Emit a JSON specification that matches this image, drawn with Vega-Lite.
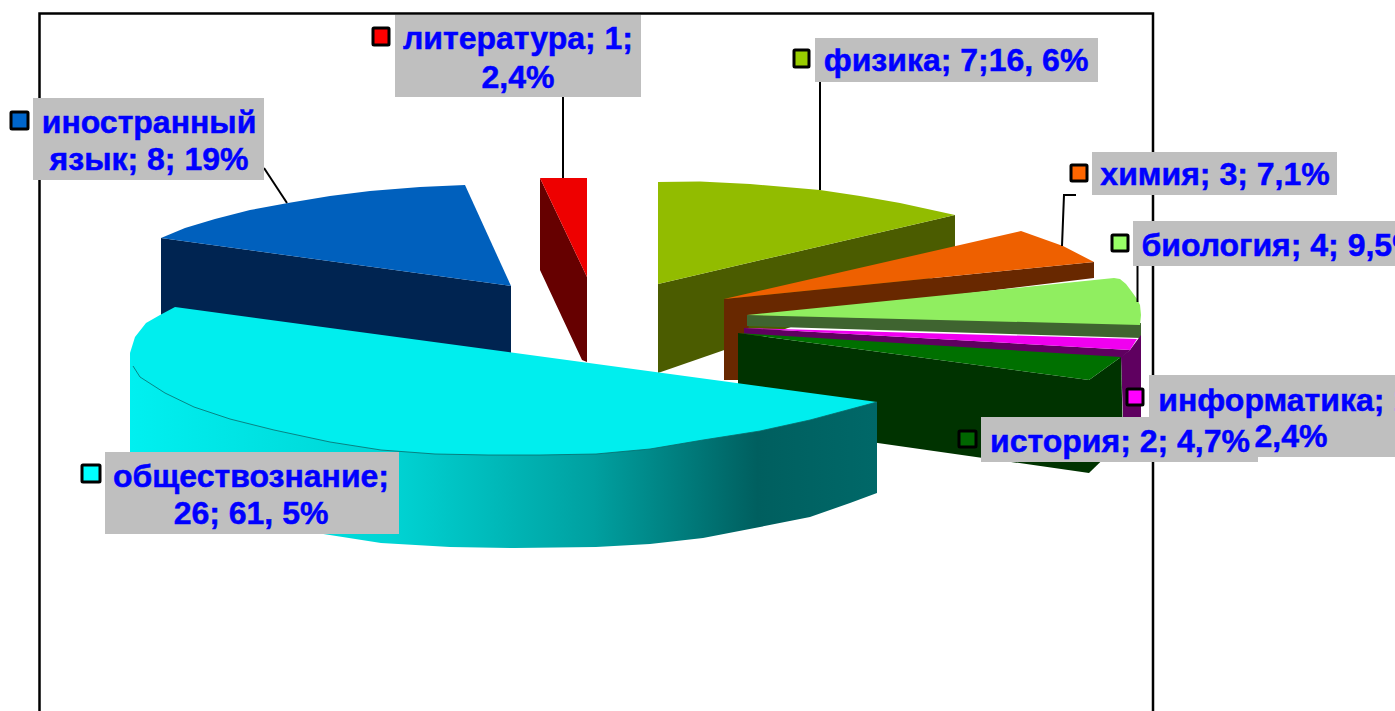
{
"$schema":"https://vega.github.io/schema/vega-lite/v6.json",
"width":1395,"height":711,"padding":0,"autosize":{"type":"none"},
"background":"white",
"view":{"stroke":null},
"datasets":{
"poly":[
{"part":"blueSide","i":0,"x":161,"y":238},{"part":"blueSide","i":1,"x":511,"y":286},{"part":"blueSide","i":2,"x":511,"y":360},{"part":"blueSide","i":3,"x":161,"y":320},
{"part":"blueTop","i":0,"x":161,"y":238},{"part":"blueTop","i":1,"x":185,"y":228},{"part":"blueTop","i":2,"x":215,"y":219},{"part":"blueTop","i":3,"x":250,"y":210},{"part":"blueTop","i":4,"x":288,"y":203},{"part":"blueTop","i":5,"x":330,"y":196},{"part":"blueTop","i":6,"x":370,"y":191},{"part":"blueTop","i":7,"x":420,"y":187},{"part":"blueTop","i":8,"x":465,"y":185},{"part":"blueTop","i":9,"x":511,"y":286},
{"part":"redSide","i":0,"x":540,"y":178},{"part":"redSide","i":1,"x":587,"y":277},{"part":"redSide","i":2,"x":587,"y":362},{"part":"redSide","i":3,"x":582,"y":360},{"part":"redSide","i":4,"x":540,"y":270},
{"part":"redTop","i":0,"x":540,"y":178},{"part":"redTop","i":1,"x":587,"y":178},{"part":"redTop","i":2,"x":587,"y":277},
{"part":"physSide","i":0,"x":658,"y":284},{"part":"physSide","i":1,"x":955,"y":215},{"part":"physSide","i":2,"x":955,"y":270},{"part":"physSide","i":3,"x":658,"y":373},
{"part":"physTop","i":0,"x":658,"y":182},{"part":"physTop","i":1,"x":700,"y":181.5},{"part":"physTop","i":2,"x":750,"y":184},{"part":"physTop","i":3,"x":820,"y":190},{"part":"physTop","i":4,"x":860,"y":196},{"part":"physTop","i":5,"x":900,"y":203},{"part":"physTop","i":6,"x":955,"y":215},{"part":"physTop","i":7,"x":658,"y":284},
{"part":"orSide","i":0,"x":724,"y":299},{"part":"orSide","i":1,"x":1094,"y":262},{"part":"orSide","i":2,"x":1094,"y":278},{"part":"orSide","i":3,"x":750,"y":320},{"part":"orSide","i":4,"x":738,"y":380},{"part":"orSide","i":5,"x":724,"y":380},
{"part":"orTop","i":0,"x":724,"y":299},{"part":"orTop","i":1,"x":1021,"y":231},{"part":"orTop","i":2,"x":1063,"y":246},{"part":"orTop","i":3,"x":1094,"y":262},
{"part":"lgSide","i":0,"x":747,"y":315},{"part":"lgSide","i":1,"x":1141,"y":323},{"part":"lgSide","i":2,"x":1141,"y":338},{"part":"lgSide","i":3,"x":747,"y":326},
{"part":"lgTop","i":0,"x":747,"y":315},{"part":"lgTop","i":1,"x":1114,"y":278},{"part":"lgTop","i":2,"x":1120,"y":279},{"part":"lgTop","i":3,"x":1126,"y":284},{"part":"lgTop","i":4,"x":1132,"y":292},{"part":"lgTop","i":5,"x":1137,"y":299},{"part":"lgTop","i":6,"x":1140,"y":305},{"part":"lgTop","i":7,"x":1141,"y":315},{"part":"lgTop","i":8,"x":1140,"y":325},
{"part":"magRight","i":0,"x":1130,"y":350},{"part":"magRight","i":1,"x":1141,"y":335},{"part":"magRight","i":2,"x":1141,"y":417},{"part":"magRight","i":3,"x":1123,"y":417},{"part":"magRight","i":4,"x":1121,"y":357},
{"part":"magSide","i":0,"x":744,"y":328},{"part":"magSide","i":1,"x":1130,"y":350},{"part":"magSide","i":2,"x":1121,"y":358},{"part":"magSide","i":3,"x":744,"y":334},
{"part":"magTop","i":0,"x":744,"y":328},{"part":"magTop","i":1,"x":1137,"y":339},{"part":"magTop","i":2,"x":1130,"y":350},
{"part":"dgSide","i":0,"x":738,"y":333},{"part":"dgSide","i":1,"x":1089,"y":380},{"part":"dgSide","i":2,"x":1089,"y":473},{"part":"dgSide","i":3,"x":738,"y":423},
{"part":"dgRight","i":0,"x":1089,"y":380},{"part":"dgRight","i":1,"x":1121,"y":357},{"part":"dgRight","i":2,"x":1123,"y":440},{"part":"dgRight","i":3,"x":1089,"y":473},
{"part":"dgTop","i":0,"x":738,"y":333},{"part":"dgTop","i":1,"x":1121,"y":357},{"part":"dgTop","i":2,"x":1089,"y":380}
],
"cyanSide":[
{"i":0,"x":130,"y":353},{"i":1,"x":130,"y":460},{"i":2,"x":150,"y":480},{"i":3,"x":200,"y":505},{"i":4,"x":317,"y":533},{"i":5,"x":381,"y":543},{"i":6,"x":450,"y":547},{"i":7,"x":515,"y":548},{"i":8,"x":596,"y":547},{"i":9,"x":650,"y":544},{"i":10,"x":703,"y":538},{"i":11,"x":760,"y":527},{"i":12,"x":810,"y":517},{"i":13,"x":850,"y":503},{"i":14,"x":877,"y":493},{"i":15,"x":877,"y":402},{"i":16,"x":488,"y":440}
],
"cyanTop":[
{"i":0,"x":175,"y":307},{"i":1,"x":160,"y":315},{"i":2,"x":146,"y":323},{"i":3,"x":135,"y":337},{"i":4,"x":130,"y":353},{"i":5,"x":133,"y":366},{"i":6,"x":140,"y":377},{"i":7,"x":165,"y":393},{"i":8,"x":194,"y":407},{"i":9,"x":230,"y":419},{"i":10,"x":274,"y":430},{"i":11,"x":330,"y":442},{"i":12,"x":381,"y":450},{"i":13,"x":435,"y":454},{"i":14,"x":488,"y":455},{"i":15,"x":540,"y":455},{"i":16,"x":596,"y":454},{"i":17,"x":650,"y":449},{"i":18,"x":703,"y":440},{"i":19,"x":760,"y":431},{"i":20,"x":810,"y":420},{"i":21,"x":877,"y":402}
],
"frame":[
{"i":0,"x":39.5,"y":711},{"i":1,"x":39.5,"y":13.5},{"i":2,"x":1153,"y":13.5},{"i":3,"x":1153,"y":711}
],
"leaders":[
{"subject":"литература","i":0,"x":563,"y":97},{"subject":"литература","i":1,"x":563,"y":178},
{"subject":"иностранный язык","i":0,"x":264,"y":168},{"subject":"иностранный язык","i":1,"x":287,"y":203},
{"subject":"физика","i":0,"x":820,"y":82},{"subject":"физика","i":1,"x":820,"y":190},
{"subject":"химия","i":0,"x":1076,"y":195},{"subject":"химия","i":1,"x":1064,"y":195},{"subject":"химия","i":2,"x":1062,"y":246},
{"subject":"биология","i":0,"x":1137.5,"y":266},{"subject":"биология","i":1,"x":1137.5,"y":302}
],
"boxes":[
{"subject":"литература","x":395,"x2":641,"y":15,"y2":97},
{"subject":"иностранный язык","x":33,"x2":264,"y":98,"y2":180},
{"subject":"физика","x":815,"x2":1098,"y":38,"y2":82},
{"subject":"химия","x":1092,"x2":1337,"y":152,"y2":195},
{"subject":"биология","x":1133,"x2":1395,"y":221,"y2":266},
{"subject":"информатика","x":1149,"x2":1395,"y":375,"y2":457},
{"subject":"история","x":981,"x2":1258,"y":417,"y2":462},
{"subject":"обществознание","x":105,"x2":399,"y":452,"y2":534}
],
"keys":[
{"subject":"литература","x":373,"x2":389,"y":28,"y2":45},
{"subject":"иностранный язык","x":11,"x2":28,"y":112,"y2":129},
{"subject":"физика","x":794,"x2":809,"y":50,"y2":67},
{"subject":"химия","x":1071,"x2":1087,"y":165,"y2":181},
{"subject":"биология","x":1112,"x2":1128,"y":235,"y2":251},
{"subject":"информатика","x":1127,"x2":1143,"y":389,"y2":405},
{"subject":"история","x":959,"x2":976,"y":431,"y2":447},
{"subject":"обществознание","x":82,"x2":100,"y":465,"y2":482}
],
"texts":[
{"label":"литература; 1;","x":518,"y":39},{"label":"2,4%","x":518,"y":78},
{"label":"иностранный","x":149,"y":123},{"label":"язык; 8; 19%","x":149,"y":160},
{"label":"физика; 7;16, 6%","x":956,"y":61},
{"label":"химия; 3; 7,1%","x":1215,"y":175},
{"label":"биология; 4; 9,5%","x":1281,"y":246},
{"label":"информатика; 1;","x":1290,"y":401},{"label":"2,4%","x":1291,"y":437},
{"label":"история; 2; 4,7%","x":1120,"y":442},
{"label":"обществознание;","x":251,"y":477},{"label":"26; 61, 5%","x":251,"y":514}
]
},
"layer":[
{"data":{"name":"frame"},"mark":{"type":"line","color":"#000000","strokeWidth":2.5},
 "encoding":{"x":{"field":"x","type":"quantitative","scale":{"domain":[0,1395],"nice":false,"zero":false},"axis":null},
 "y":{"field":"y","type":"quantitative","scale":{"domain":[0,711],"reverse":true,"nice":false,"zero":false},"axis":null},"order":{"field":"i"}}},
{"data":{"name":"poly"},"mark":{"type":"line","filled":true,"strokeWidth":0},
 "encoding":{"x":{"field":"x","type":"quantitative","axis":null},"y":{"field":"y","type":"quantitative","axis":null},"order":{"field":"i"},
 "color":{"field":"part","type":"nominal","legend":null,"sort":null,"scale":{
 "domain":["blueSide","blueTop","redSide","redTop","physSide","physTop","orSide","orTop","lgSide","lgTop","magRight","magSide","magTop","dgSide","dgRight","dgTop"],
 "range":["#002451","#0060bd","#660000","#ee0000","#4b5c00","#92bc00","#682800","#ee6000","#3f6430","#90ee60","#5f0060","#5f0060","#f000f0","#003300","#003300","#007000"]}}}},
{"data":{"name":"cyanSide"},"mark":{"type":"line","filled":true,"strokeWidth":0,"fill":{"gradient":"linear","x1":0,"x2":1,"y1":0,"y2":0,"stops":[{"offset":0,"color":"#00f0f0"},{"offset":0.35,"color":"#00d4d4"},{"offset":0.62,"color":"#00a0a0"},{"offset":0.84,"color":"#005f5f"},{"offset":1,"color":"#006868"}]}},
 "encoding":{"x":{"field":"x","type":"quantitative","axis":null},"y":{"field":"y","type":"quantitative","axis":null},"order":{"field":"i"}}},
{"data":{"name":"cyanTop"},"mark":{"type":"line","filled":true,"strokeWidth":0,"fill":"#00eeee"},
 "encoding":{"x":{"field":"x","type":"quantitative","axis":null},"y":{"field":"y","type":"quantitative","axis":null},"order":{"field":"i"}}},
{"data":{"name":"cyanTop"},"transform":[{"filter":"datum.i >= 5"}],"mark":{"type":"line","color":"#0a6a6a","strokeWidth":0.8},
 "encoding":{"x":{"field":"x","type":"quantitative","axis":null},"y":{"field":"y","type":"quantitative","axis":null},"order":{"field":"i"}}},
{"data":{"name":"leaders"},"mark":{"type":"line","color":"#000000","strokeWidth":2},
 "encoding":{"x":{"field":"x","type":"quantitative","axis":null},"y":{"field":"y","type":"quantitative","axis":null},"order":{"field":"i"},"detail":{"field":"subject"}}},
{"data":{"name":"boxes"},"mark":{"type":"rect","color":"#bfbfbf"},
 "encoding":{"x":{"field":"x","type":"quantitative","axis":null},"x2":{"field":"x2"},"y":{"field":"y","type":"quantitative","axis":null},"y2":{"field":"y2"}}},
{"data":{"name":"keys"},"mark":{"type":"rect","stroke":"#000000","strokeWidth":3,"cornerRadius":1},
 "encoding":{"x":{"field":"x","type":"quantitative","axis":null},"x2":{"field":"x2"},"y":{"field":"y","type":"quantitative","axis":null},"y2":{"field":"y2"},
 "fill":{"field":"subject","type":"nominal","legend":null,"scale":{
 "domain":["литература","иностранный язык","физика","химия","биология","информатика","история","обществознание"],
 "range":["#ff0000","#0066cc","#99cc00","#ff6600","#99ff66","#ff00ff","#006600","#00ffff"]}}}},
{"data":{"name":"texts"},"mark":{"type":"text","font":"Liberation Sans","fontWeight":"bold","fontSize":32,"fill":"#0000ff","stroke":"#0000ff","strokeWidth":0.5,"align":"center","baseline":"middle","clip":true},
 "encoding":{"x":{"field":"x","type":"quantitative","axis":null},"y":{"field":"y","type":"quantitative","axis":null},"text":{"field":"label"}}}
],
"resolve":{"scale":{"color":"independent"}}
}
